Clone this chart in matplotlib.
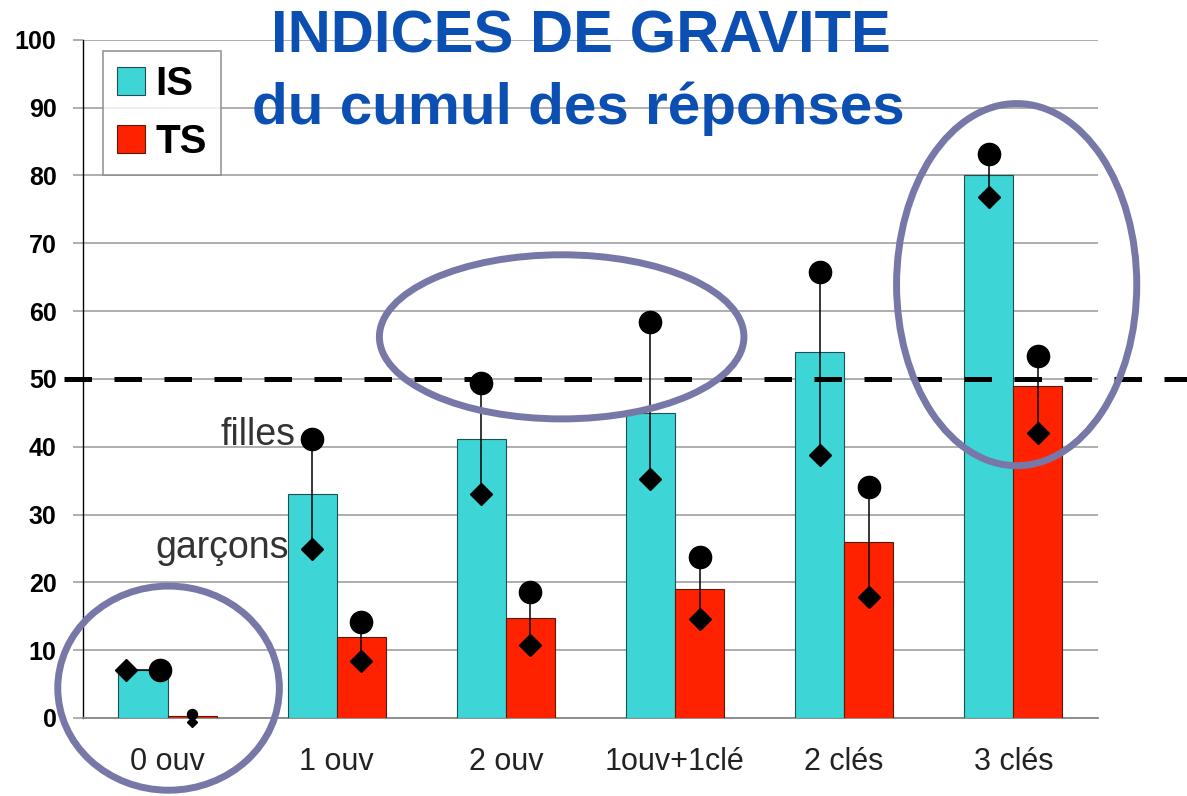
import matplotlib.pyplot as plt
from matplotlib.patches import Ellipse
import numpy as np

categories = ['0 ouv', '1 ouv', '2 ouv', '1ouv+1clé', '2 clés', '3 clés']
is_vals = [7.1, 33, 41.1, 45, 54, 80]
ts_vals = [0.3, 12, 14.7, 19, 26, 49]
# filles (circles) and garçons (diamonds)
is_filles = [7.1, 41.1, 49.4, 58.4, 65.8, 83.2]
is_garcons = [7.1, 24.9, 33.0, 35.2, 38.8, 76.8]
ts_filles = [0.6, 14.2, 18.6, 23.7, 34.1, 53.4]
ts_garcons = [-0.6, 8.4, 10.8, 14.6, 17.8, 42.0]
threshold = 50

plt.rcParams['font.family'] = ['Liberation Sans', 'DejaVu Sans']

fig = plt.figure(figsize=(11.87, 7.96), dpi=100)
ax = fig.add_axes([0.0699, 0.098, 0.855, 0.852])

x = np.arange(len(categories))
w = 0.29
c_is = '#3dd5d5'
c_ts = '#ff2200'

ax.bar(x - w / 2, is_vals, w, color=c_is, edgecolor='#1f4f4f', linewidth=0.8, label='IS', zorder=3)
ax.bar(x + w / 2, ts_vals, w, color=c_ts, edgecolor='#5a1a0a', linewidth=0.8, label='TS', zorder=3)

# in the first group the markers are spread / shrunk (as in the original)
dx_f = np.zeros(len(x)); dx_f[0] = 0.1
dx_g = np.zeros(len(x)); dx_g[0] = -0.1

for xs, top, bot, small in [(x - w / 2, is_filles, is_garcons, False),
                            (x + w / 2, ts_filles, ts_garcons, True)]:
    xf = xs + (0 if small else dx_f)
    xg = xs + (0 if small else dx_g)
    for i in range(len(xs)):
        s = 0.45 if (small and i == 0) else 1.0
        if xf[i] == xg[i]:
            ax.vlines(xs[i], bot[i], top[i], color='black', lw=1.1, zorder=4)
        else:
            ax.plot([xg[i], xf[i]], [bot[i], top[i]], color='black', lw=1.1, zorder=4)
        ax.plot(xf[i], top[i], 'o', color='black', ms=16 * s, zorder=5, clip_on=False)
        ax.plot(xg[i], bot[i], 'D', color='black', ms=11.5 * s, zorder=5, clip_on=False)

ax.plot([-0.61, 6.05], [threshold, threshold], color='black', lw=3.6,
        dashes=(5.5, 4.5), clip_on=False, zorder=6)

ax.set_xlim(-0.5, 5.5)
ax.set_ylim(0, 100)
ax.set_yticks(np.arange(0, 101, 10))
ax.set_xticks(x)
ax.set_xticklabels(categories, fontsize=22, color='#222222')
ax.tick_params(axis='x', length=0, pad=21)
ax.tick_params(axis='y', length=7, color='#999999', width=1.1, pad=12, labelsize=18)
for t in ax.get_yticklabels():
    t.set_fontweight('bold')

ax.grid(axis='y', color='#999999', lw=1.1, zorder=0)
ax.set_axisbelow(True)
for s in ['top', 'right']:
    ax.spines[s].set_visible(False)
ax.spines['left'].set_color('black')
ax.spines['left'].set_linewidth(1.0)
ax.spines['bottom'].set_color('#888888')
ax.spines['bottom'].set_linewidth(1.3)

leg = ax.legend(loc='upper left', bbox_to_anchor=(0.0197, 0.984),
                prop={'weight': 'bold', 'size': 29}, frameon=True, fancybox=False,
                handlelength=0.7, handleheight=0.7, handletextpad=0.25,
                borderpad=0.35, labelspacing=0.5, borderaxespad=0)
leg.get_frame().set_edgecolor('#888888')
leg.get_frame().set_linewidth(1.3)
leg.set_zorder(7)

ax.text(0.755, 40.3, 'filles', ha='right', va='baseline', fontsize=27, color='#333333', zorder=8)
ax.text(0.715, 23.6, 'garçons', ha='right', va='baseline', fontsize=27, color='#333333', zorder=8)

fig.text(0.489, 0.953, 'INDICES DE GRAVITE', ha='center', va='center',
         fontsize=43, fontweight='bold', color='#0b4fb3')
fig.text(0.487, 0.864, 'du cumul des réponses', ha='center', va='center',
         fontsize=42, fontweight='bold', color='#0b4fb3')

ell_color = '#7878a8'
for cx, cy, ew, eh in [(0.006, 4.4, 1.31, 30.1), (2.33, 56.2, 2.155, 24.2), (5.02, 63.9, 1.42, 53.4)]:
    ax.add_patch(Ellipse((cx, cy), ew, eh, fill=False, edgecolor=ell_color,
                         lw=5, clip_on=False, zorder=9))

fig.savefig('out.png', dpi=100)
